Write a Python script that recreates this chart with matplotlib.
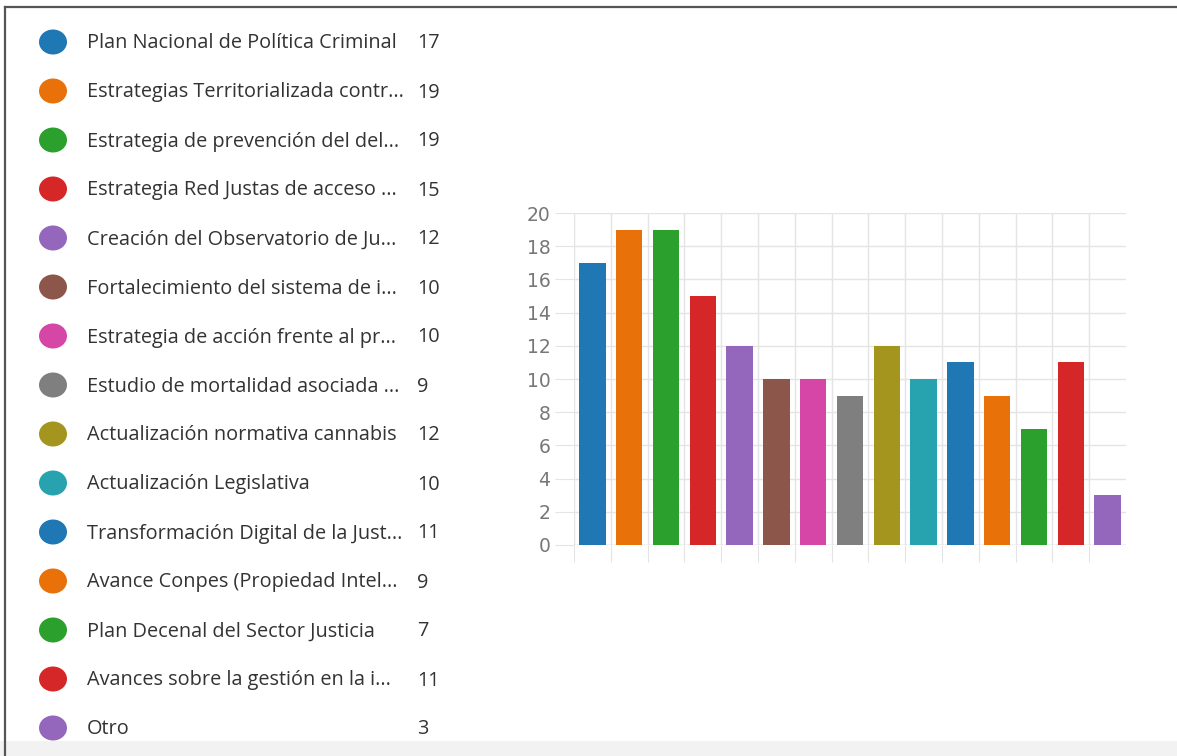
import matplotlib
matplotlib.use("Agg")
import matplotlib.pyplot as plt
from matplotlib.patches import Ellipse, Rectangle
from matplotlib.lines import Line2D
import numpy as np

labels = [
    "Plan Nacional de Política Criminal",
    "Estrategias Territorializada contr...",
    "Estrategia de prevención del del...",
    "Estrategia Red Justas de acceso ...",
    "Creación del Observatorio de Ju...",
    "Fortalecimiento del sistema de i...",
    "Estrategia de acción frente al pr...",
    "Estudio de mortalidad asociada ...",
    "Actualización normativa cannabis",
    "Actualización Legislativa",
    "Transformación Digital de la Just...",
    "Avance Conpes (Propiedad Intel...",
    "Plan Decenal del Sector Justicia",
    "Avances sobre la gestión en la i...",
    "Otro",
]
values = [17, 19, 19, 15, 12, 10, 10, 9, 12, 10, 11, 9, 7, 11, 3]
colors = ["#1f77b4", "#e8710a", "#2ca02c", "#d62728", "#9467bd",
          "#8c564b", "#d546a6", "#7f7f7f", "#a3951e", "#27a3b0",
          "#1f77b4", "#e8710a", "#2ca02c", "#d62728", "#9467bd"]
y_ticks = [0, 2, 4, 6, 8, 10, 12, 14, 16, 18, 20]

W, H = 1177, 756
fig = plt.figure(figsize=(W / 100, H / 100), dpi=100)
fig.patch.set_facecolor("white")

# Bar chart
ax = fig.add_axes([574 / W, 1 - 545 / H, (1126 - 574) / W, (545 - 213) / H])
x = np.arange(len(values))
ax.bar(x, values, width=0.72, color=colors, zorder=3)
ax.set_xlim(-0.5, len(values) - 0.5)
ax.set_ylim(0, 20)
ax.set_yticks(y_ticks)
ax.set_yticklabels([str(t) for t in y_ticks])
ax.set_xticks(np.arange(len(values)) - 0.5)
ax.set_xticklabels([])
for s in ax.spines.values():
    s.set_visible(False)
ax.grid(True, color="#e4e4e4", linewidth=1.0, zorder=0)
ax.axhline(0, color="#d8d8d8", linewidth=1.0, zorder=2)
ax.tick_params(axis="y", length=14, color="#e4e4e4", labelsize=13.5,
               labelcolor="#777777", pad=3)
ax.tick_params(axis="x", length=12, color="#e4e4e4")
ax.set_facecolor("white")

# Legend overlay
lg = fig.add_axes([0, 0, 1, 1], zorder=-1)
lg.set_xlim(0, W)
lg.set_ylim(H, 0)
lg.axis("off")
for i, (lab, v, c) in enumerate(zip(labels, values, colors)):
    yy = 42 + i * 49.0
    lg.add_patch(Ellipse((53, yy), 28, 25, color=c, lw=0))
    lg.text(87, yy + 1.5, lab, fontsize=14.3, color="#333333", va="center",
            ha="left", family="Open Sans")
    lg.text(417, yy + 1.5, str(v), fontsize=14.3, color="#333333", va="center",
            ha="left", family="Open Sans")

# frame lines and bottom band
lg.add_patch(Rectangle((0, 741), W, 15, color="#f2f2f2", lw=0))
lg.add_line(Line2D([5, W], [7, 7], color="#555555", lw=1.6))
lg.add_line(Line2D([5, 5], [7, H], color="#555555", lw=1.6))

fig.savefig("out.png", dpi=100)
